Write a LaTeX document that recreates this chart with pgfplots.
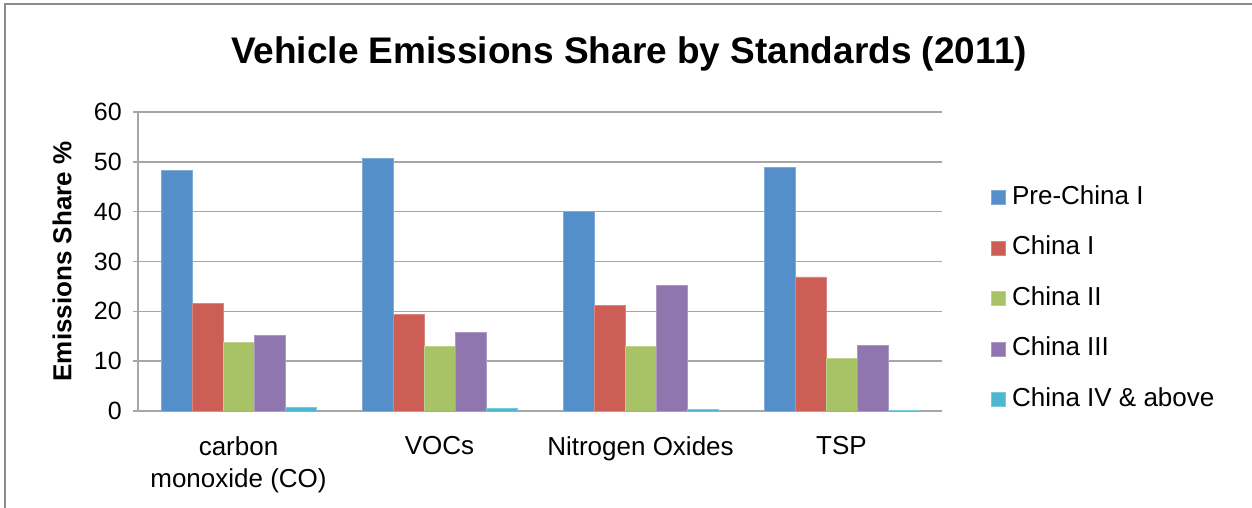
\documentclass[border=0pt]{standalone}
\usepackage{fontspec}
\setmainfont{Liberation Sans}
\usepackage{pgfplots}
\pgfplotsset{compat=1.18}
\definecolor{cA}{HTML}{558FC9}
\definecolor{cB}{HTML}{CD5E56}
\definecolor{cC}{HTML}{A7C366}
\definecolor{cD}{HTML}{8F76AF}
\definecolor{cE}{HTML}{4BB8CF}
\definecolor{gridgray}{HTML}{A6A6A6}
\definecolor{framegray}{HTML}{8C8C8C}
\begin{document}
\begin{tikzpicture}[x=1pt,y=1pt]
\path[use as bounding box] (0,0) rectangle (1252,508);
\draw[framegray, line width=2pt] (5,-10) -- (5,504) -- (1262,504);
\begin{axis}[
  at={(138pt,97pt)}, anchor=south west,
  width=804pt, height=299pt, scale only axis,
  ymin=0, ymax=60, ytick={0,10,...,60},
  xmin=-0.5, xmax=3.5, xtick={0,1,2,3},
  xticklabels={{carbon\\monoxide (CO)}, VOCs, Nitrogen Oxides, TSP},
  ybar=0pt, bar width=31pt,
  ymajorgrids, grid style={gridgray, line width=1.5pt},
  axis lines*=left,
  axis line style={gridgray, line width=1.5pt, -},
  xtick style={draw=none},
  ytick style={gridgray, line width=1.5pt},
  tick align=outside, major tick length=5pt,
  /pgf/number format/assume math mode=true,
  yticklabel style={font=\fontsize{25}{30}\selectfont, inner sep=0pt, xshift=-11pt},
  xticklabel style={font=\fontsize{26}{32}\selectfont, align=center, anchor=north, inner sep=0pt, yshift=-20pt},
  ylabel={Emissions Share \%},
  ylabel style={font=\fontsize{26}{31}\selectfont\bfseries, at={(axis description cs:-0.0945,0.5)}, anchor=center, inner sep=0pt},
  title={Vehicle Emissions Share by Standards (2011)},
  title style={font=\fontsize{37}{44}\selectfont\bfseries, anchor=base, at={(axis description cs:0.6107,1.1405)}, inner sep=0pt},
  legend style={at={(axis description cs:1.061,0.7525)}, anchor=north west, draw=none, fill=none, inner sep=0pt,
    row sep=27.5pt, font=\fontsize{26}{31}\selectfont,
    nodes={inner sep=0pt, text height=18pt, text depth=5pt},
    /tikz/every odd column/.append style={column sep=6pt}},
  legend cell align=left,
  legend image code/.code={\fill[#1] (0pt,-7pt) rectangle (14pt,7pt);},
]
\addplot[fill=cA, draw=cA!75!white, line width=0.8pt] coordinates {(0,48.2) (1,50.7) (2,40.0) (3,48.9)};
\addplot[fill=cB, draw=cB!75!white, line width=0.8pt] coordinates {(0,21.5) (1,19.4) (2,21.2) (3,26.9)};
\addplot[fill=cC, draw=cC!75!white, line width=0.8pt] coordinates {(0,13.8) (1,13.0) (2,12.9) (3,10.6)};
\addplot[fill=cD, draw=cD!75!white, line width=0.8pt] coordinates {(0,15.2) (1,15.7) (2,25.2) (3,13.2)};
\addplot[fill=cE, draw=cE!75!white, line width=0.8pt] coordinates {(0,0.8) (1,0.5) (2,0.3) (3,0.1)};
\legend{Pre-China I, China I, China II, China III, China IV \& above}
\end{axis}
\end{tikzpicture}
\end{document}
